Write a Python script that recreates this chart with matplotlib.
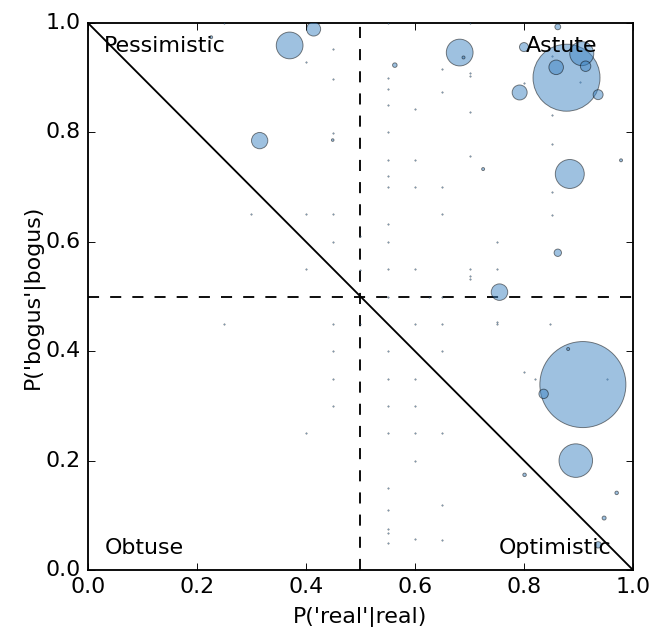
import numpy as np
import matplotlib
matplotlib.use('Agg')
import matplotlib.pyplot as plt

# bubble positions: P('real'|real), P('bogus'|bogus), marker area
big_x = [0.908, 0.878, 0.895, 0.884, 0.370, 0.682, 0.906, 0.315, 0.755, 0.792,
         0.414, 0.859, 0.913, 0.936, 0.836, 0.800, 0.862, 0.936, 0.862, 0.563,
         0.947, 0.970, 0.801, 0.881, 0.725, 0.978, 0.689, 0.226, 0.449]
big_y = [0.339, 0.900, 0.200, 0.724, 0.959, 0.946, 0.944, 0.785, 0.508, 0.873,
         0.989, 0.919, 0.921, 0.869, 0.322, 0.956, 0.580, 0.046, 0.993, 0.923,
         0.095, 0.141, 0.174, 0.404, 0.733, 0.749, 0.937, 0.974, 0.786]
big_s = [2170, 1316, 330, 246, 210, 210, 169, 78, 80, 66,
         58, 62, 32, 29, 26, 24, 16, 12, 10, 6,
         4.7, 3.6, 3.6, 2.6, 2.6, 2.6, 2.6, 2.6, 2.0]

# single-count points (tiny dots), grouped by column
small_cols = {
    0.25: [1.0, 0.45],
    0.30: [0.65],
    0.40: [0.928, 0.65, 0.55, 0.25],
    0.45: [0.952, 0.897, 0.799, 0.65, 0.60, 0.45, 0.40, 0.35, 0.30],
    0.50: [0.611, 0.549, 0.449],
    0.55: [1.0, 0.90, 0.88, 0.85, 0.80, 0.75, 0.72, 0.70, 0.633, 0.60, 0.55,
           0.50, 0.40, 0.35, 0.30, 0.25, 0.15, 0.11, 0.075, 0.067, 0.05],
    0.60: [0.843, 0.75, 0.70, 0.55, 0.45, 0.35, 0.30, 0.25, 0.20, 0.056],
    0.626: [0.50],
    0.65: [0.916, 0.874, 0.70, 0.65, 0.50, 0.45, 0.40, 0.25, 0.119, 0.055],
    0.70: [1.0, 0.909, 0.903, 0.837, 0.757, 0.55, 0.537, 0.532],
    0.75: [0.60, 0.55, 0.454, 0.450],
    0.80: [0.890, 0.362],
    0.82: [0.349],
    0.848: [0.449],
    0.852: [0.94, 0.832, 0.779, 0.691, 0.649],
    0.902: [0.893],
    0.953: [0.349],
}

small_x = []
small_y = []
for cx, ys in small_cols.items():
    for cy in ys:
        small_x.append(cx)
        small_y.append(cy)

plt.style.use('classic')
plt.rcParams['figure.facecolor'] = 'white'
plt.rcParams['savefig.facecolor'] = 'white'

fig = plt.figure(figsize=(665 / 133, 627 / 133), dpi=133)
ax = fig.add_subplot(111)
fig.subplots_adjust(left=0.1323, right=0.9519, bottom=0.0909, top=0.9633)

ax.plot([0, 1], [1, 0], 'k-', lw=1.0)
ax.axvline(0.5, color='k', ls='--', lw=1.0)
ax.axhline(0.5, color='k', ls='--', lw=1.0)

ax.scatter(small_x, small_y, s=0.6, c='#3f85c3', edgecolors='k',
           linewidths=0.3, alpha=0.5, zorder=3)
ax.scatter(big_x, big_y, s=big_s, c='#3f85c3', edgecolors='k',
           linewidths=0.5, alpha=0.5, zorder=3)

ax.text(0.03, 0.947, 'Pessimistic', fontsize=12, zorder=5)
ax.text(0.804, 0.947, 'Astute', fontsize=12, zorder=5)
ax.text(0.03, 0.029, 'Obtuse', fontsize=12, zorder=5)
ax.text(0.754, 0.029, 'Optimistic', fontsize=12, zorder=5)

ax.set_xlim(0, 1)
ax.set_ylim(0, 1)
ax.set_xticks(np.arange(0, 1.01, 0.2))
ax.set_yticks(np.arange(0, 1.01, 0.2))
ax.set_xlabel("P('real'|real)")
ax.set_ylabel("P('bogus'|bogus)", labelpad=1)

plt.savefig('out.png', dpi=133)
